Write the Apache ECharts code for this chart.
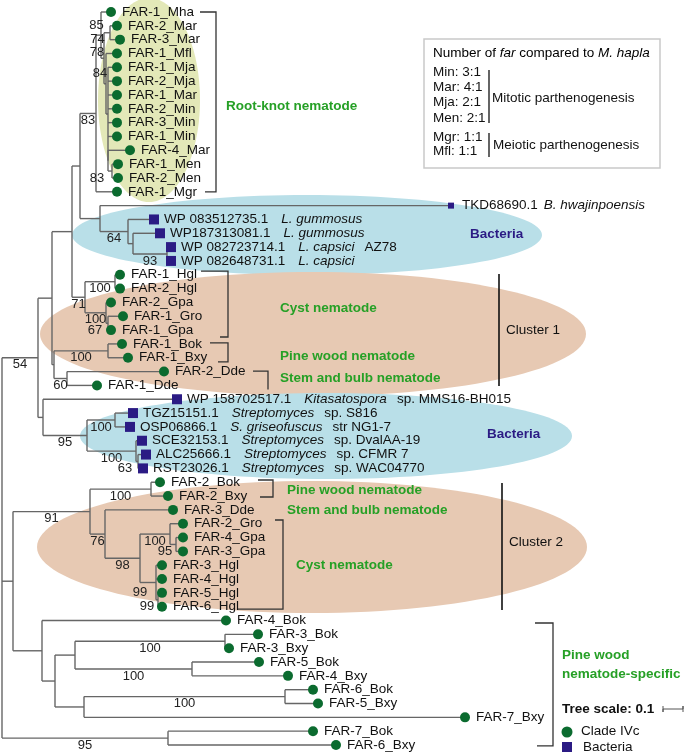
<!DOCTYPE html>
<html>
<head>
<meta charset="utf-8">
<script src="https://cdn.jsdelivr.net/npm/echarts@6/dist/echarts.min.js"></script>
<style>
  html, body { margin: 0; padding: 0; background: #fff; }
  #main { width: 685px; height: 754px; }
</style>
</head>
<body>
<div id="main"></div>
<script>
// leaves, top to bottom. bacteria: "accession|species|strain"
const leafNames = [
  'FAR-1_Mha', 'FAR-2_Mar', 'FAR-3_Mar', 'FAR-1_Mfl', 'FAR-1_Mja', 'FAR-2_Mja', 'FAR-1_Mar',
  'FAR-2_Min', 'FAR-3_Min', 'FAR-1_Min', 'FAR-4_Mar', 'FAR-1_Men', 'FAR-2_Men', 'FAR-1_Mgr',
  'TKD68690.1|B. hwajinpoensis|',
  'WP 083512735.1|L. gummosus|', 'WP187313081.1|L. gummosus|',
  'WP 082723714.1|L. capsici|AZ78', 'WP 082648731.1|L. capsici|',
  'FAR-1_Hgl', 'FAR-2_Hgl', 'FAR-2_Gpa', 'FAR-1_Gro', 'FAR-1_Gpa', 'FAR-1_Bok', 'FAR-1_Bxy',
  'FAR-2_Dde', 'FAR-1_Dde',
  'WP 158702517.1|Kitasatospora|sp. MMS16-BH015',
  'TGZ15151.1|Streptomyces|sp. S816', 'OSP06866.1|S. griseofuscus|str NG1-7',
  'SCE32153.1|Streptomyces|sp. DvalAA-19', 'ALC25666.1|Streptomyces|sp. CFMR 7',
  'RST23026.1|Streptomyces|sp. WAC04770',
  'FAR-2_Bok', 'FAR-2_Bxy', 'FAR-3_Dde', 'FAR-2_Gro', 'FAR-4_Gpa', 'FAR-3_Gpa',
  'FAR-3_Hgl', 'FAR-4_Hgl', 'FAR-5_Hgl', 'FAR-6_Hgl',
  'FAR-4_Bok', 'FAR-3_Bok', 'FAR-3_Bxy', 'FAR-5_Bok', 'FAR-4_Bxy', 'FAR-6_Bok', 'FAR-5_Bxy',
  'FAR-7_Bxy', 'FAR-7_Bok', 'FAR-6_Bxy'
];

// distance of each tip from the root (tree units)
const leafDepth = [
  0.545, 0.575, 0.59, 0.575, 0.575, 0.575, 0.575, 0.575, 0.575, 0.575, 0.64, 0.58, 0.58, 0.575,
  2.245, 0.76, 0.79, 0.845, 0.845,
  0.59, 0.59, 0.545, 0.605, 0.545, 0.60, 0.63, 0.81, 0.475,
  0.875, 0.655, 0.64, 0.70, 0.72, 0.705,
  0.79, 0.83, 0.855, 0.905, 0.905, 0.905, 0.80, 0.80, 0.80, 0.80,
  1.12, 1.28, 1.135, 1.285, 1.43, 1.555, 1.58, 2.315, 1.555, 1.67
];

// internal nodes: [id, depth, children (leaf index or node id), bootstrap]
const treeNodes = [
  ['root', 0, ['n54', 'nA', 'n95b'], ''],
  ['n54', 0.18, ['n52', 'n43'], '54'],
  ['n52', 0.25, ['n72', 'n54b'], ''],
  ['n72', 0.35, ['nTop', 'n71'], ''],
  ['nTop', 0.39, ['n83', 'nB'], ''],
  ['n83', 0.47, ['nA85', 13], '83'],
  ['nA85', 0.495, [0, 'nB74'], '85'],
  ['nB74', 0.51, ['nMar', 'nC78'], '74'],
  ['nMar', 0.54, [1, 2], ''],
  ['nC78', 0.52, [3, 'nD84'], '78'],
  ['nD84', 0.53, [4, 5, 6, 7, 8, 9, 'nLow'], '84'],
  ['nLow', 0.53, [10, 'nMen'], ''],
  ['nMen', 0.55, [11, 12], '83'],
  ['nB', 0.49, [14, 'n128'], ''],
  ['n128', 0.63, [15, 'n133'], '64'],
  ['n133', 0.655, [16, 'n93'], ''],
  ['n93', 0.825, [17, 18], '93'],
  ['n71', 0.415, ['nHgl', 'nGpa'], '71'],
  ['nHgl', 0.565, [19, 20], '100'],
  ['nGpa', 0.52, [21, 'n67'], '100'],
  ['n67', 0.53, [22, 23], '67'],
  ['n54b', 0.26, ['nBok1', 'n60'], ''],
  ['nBok1', 0.53, [24, 25], '100'],
  ['n60', 0.325, [26, 27], '60'],
  ['n43', 0.205, [28, 'n95s'], ''],
  ['n95s', 0.425, ['nS1', 'nS2'], '95'],
  ['nS1', 0.565, [29, 30], '100'],
  ['nS2', 0.67, [31, 'n63'], '100'],
  ['n63', 0.68, [32, 33], '63'],
  ['nA', 0.055, ['n91', 'n42'], ''],
  ['n91', 0.44, ['nBok2', 'n76'], '91'],
  ['nBok2', 0.745, [34, 35], '100'],
  ['n76', 0.515, [36, 'n98'], '76'],
  ['n98', 0.69, ['nG', 'n99a'], '98'],
  ['nG', 0.84, [37, 'n95g'], '100'],
  ['n95g', 0.87, [38, 39], '95'],
  ['n99a', 0.77, [40, 41, 'n99b'], '99'],
  ['n99b', 0.78, [42, 43], '99'],
  ['n42', 0.20, [44, 'n55'], ''],
  ['n55', 0.265, ['n75', 'n84b'], ''],
  ['n75', 0.365, ['n225', 'n192'], ''],
  ['n225', 1.115, [45, 46], '100'],
  ['n192', 0.95, [47, 48], '100'],
  ['n84b', 0.41, ['n285', 51], ''],
  ['n285', 1.415, [49, 50], '100'],
  ['n95b', 0.83, [52, 53], '95']
];

// bootstrap label nudges (px) where labels crowd
const supportNudge = {
  nA85: [-2, -17], nB74: [-5, -26], nC78: [-8, -38], nD84: [-7, -48], nMen: [-13, 0],
  n63: [-12, 0], n95g: [-8, 0], n67: [-12, 0], n99b: [-10, 0], n99a: [-8, 3]
};

// shaded groups: [centre depth, centre leaf, half width, half height, colour]
const highlights = [
  [0.735, 6.36, 0.255, 7.38, '#e3e8b8'],
  [1.525, 16.12, 1.175, 2.89, '#b9dfe8'],
  [1.555, 23.28, 1.365, 4.48, '#e7c9b3'],
  [1.62, 30.66, 1.23, 3.11, '#b9dfe8'],
  [1.55, 38.68, 1.375, 4.77, '#e7c9b3']
];

// brackets: [depth, top leaf, bottom leaf, tick top px, tick bottom px]
const brackets = [
  [1.07, 0, 13, 16, 11],
  [1.13, 18.73, 23.5, 27, 8],
  [1.13, 23.93, 25.3, 18, 10],
  [1.33, 25.96, 27.3, 15, 0],
  [1.355, 33.84, 35.07, 15, 13],
  [1.405, 36.73, 43.17, 8, 45],
  [2.755, 44.18, 53.07, 18, 16]
];
const clusterLines = [[2.485, 18.94, 27.04], [2.5, 34.06, 43.24]];

const GREEN = '#0b6b2f', NAVY = '#2b1b84', LABEL_GREEN = '#26a026';
const FONT = '"Liberation Sans", Arial, sans-serif';

// ---- tree layout ----
const nodeMap = {};
treeNodes.forEach(n => { nodeMap[n[0]] = { depth: n[1], kids: n[2], support: n[3] }; });
function depthOf(k) { return typeof k === 'number' ? leafDepth[k] : nodeMap[k].depth; }
function yOf(k) {
  if (typeof k === 'number') return k;
  const n = nodeMap[k];
  if (n.y === undefined) {
    const ys = n.kids.map(yOf);
    n.y = (ys[0] + ys[ys.length - 1]) / 2;
  }
  return n.y;
}
const segments = [];
const supports = [];
treeNodes.forEach(([id]) => {
  const n = nodeMap[id];
  const ys = n.kids.map(yOf);
  segments.push([n.depth, ys[0], n.depth, ys[ys.length - 1]]);
  n.kids.forEach((k, j) => {
    segments.push([n.depth, ys[j], depthOf(k), ys[j]]);
    if (typeof k === 'string' && nodeMap[k].support) {
      supports.push({ value: [n.depth, depthOf(k), ys[j]], text: nodeMap[k].support, id: k });
    }
  });
});

function leafLabel(i) {
  const name = leafNames[i];
  if (name.indexOf('|') < 0) return '{n|' + name + '}';
  const parts = name.split('|');
  let s = '{n|' + parts[0] + '}{' + (i === 14 ? 'i2' : 'i') + '|' + parts[1] + '}';
  if (parts[2]) s += '{t|' + parts[2] + '}';
  return s;
}

const leafData = leafNames.map((name, i) => {
  const bac = name.indexOf('|') >= 0;
  return {
    value: [leafDepth[i], i],
    symbol: bac ? 'rect' : 'circle',
    symbolSize: bac ? (i === 14 ? 6 : 10) : 10,
    itemStyle: { color: bac ? NAVY : GREEN, opacity: 1 },
    label: { distance: bac ? (i === 14 ? 8 : 5) : 6 }
  };
});

function txt(x, y, text, bold, color) {
  return {
    type: 'text', x: x, y: y, z: 100,
    style: {
      text: text, font: (bold ? 'bold ' : '') + '13.5px ' + FONT,
      fill: color || '#111', verticalAlign: 'middle'
    }
  };
}

const chart = echarts.init(document.getElementById('main'));

const option = {
  animation: false,
  grid: { left: 2, right: 0, top: 12, bottom: 9 },
  xAxis: { type: 'value', min: 0, max: 3.415, show: false },
  yAxis: { type: 'value', min: 0, max: 53, inverse: true, show: false },
  series: [
    {
      type: 'custom',
      z: 1,
      clip: false,
      data: highlights.map(h => h.slice(0, 4)),
      renderItem: (params, api) => {
        const c = api.coord([api.value(0), api.value(1)]);
        const s = api.size([api.value(2), api.value(3)]);
        return {
          type: 'ellipse',
          shape: { cx: c[0], cy: c[1], rx: s[0], ry: s[1] },
          style: { fill: highlights[params.dataIndex][4] }
        };
      }
    },
    {
      type: 'custom',
      z: 2,
      clip: false,
      data: segments,
      renderItem: (params, api) => {
        const p1 = api.coord([api.value(0), api.value(1)]);
        const p2 = api.coord([api.value(2), api.value(3)]);
        return {
          type: 'line',
          shape: { x1: p1[0], y1: p1[1], x2: p2[0], y2: p2[1] },
          style: { stroke: '#666', lineWidth: 1.4 }
        };
      }
    },
    {
      type: 'custom',
      z: 2,
      clip: false,
      data: brackets,
      renderItem: (params, api) => {
        const b = brackets[params.dataIndex];
        const top = api.coord([b[0], b[1]]);
        const bot = api.coord([b[0], b[2]]);
        const pts = [[top[0] - b[3], top[1]], top, bot, [bot[0] - b[4], bot[1]]];
        return {
          type: 'polyline',
          shape: { points: pts },
          style: { stroke: '#333', lineWidth: 1.3, fill: null }
        };
      }
    },
    {
      type: 'custom',
      z: 2,
      clip: false,
      data: clusterLines,
      renderItem: (params, api) => {
        const p1 = api.coord([api.value(0), api.value(1)]);
        const p2 = api.coord([api.value(0), api.value(2)]);
        return {
          type: 'line',
          shape: { x1: p1[0], y1: p1[1], x2: p2[0], y2: p2[1] },
          style: { stroke: '#111', lineWidth: 1.6 }
        };
      }
    },
    {
      type: 'custom',
      z: 3,
      clip: false,
      data: supports.map(s => s.value),
      renderItem: (params, api) => {
        const s = supports[params.dataIndex];
        const a = api.coord([api.value(0), api.value(2)]);
        const b = api.coord([api.value(1), api.value(2)]);
        const nudge = supportNudge[s.id] || [0, 0];
        return {
          type: 'text',
          x: (a[0] + b[0]) / 2 + nudge[0],
          y: a[1] + 7 + nudge[1],
          style: {
            text: s.text, fill: '#222', font: '13px ' + FONT,
            align: 'center', verticalAlign: 'middle'
          }
        };
      }
    },
    {
      type: 'scatter',
      z: 4,
      data: leafData,
      label: {
        show: true,
        position: 'right',
        formatter: p => leafLabel(p.dataIndex),
        rich: {
          n: { fontSize: 13.5, fontFamily: FONT, color: '#111' },
          i: { fontSize: 13.5, fontFamily: FONT, color: '#111', fontStyle: 'italic', padding: [0, 0, 0, 13] },
          i2: { fontSize: 13.5, fontFamily: FONT, color: '#111', fontStyle: 'italic', padding: [0, 0, 0, 6] },
          t: { fontSize: 13.5, fontFamily: FONT, color: '#111', padding: [0, 0, 0, 10] }
        }
      }
    }
  ],
  graphic: [
    // clade names
    txt(226, 106, 'Root-knot nematode', true, LABEL_GREEN),
    txt(470, 234, 'Bacteria', true, NAVY),
    txt(280, 308, 'Cyst nematode', true, LABEL_GREEN),
    txt(280, 356, 'Pine wood nematode', true, LABEL_GREEN),
    txt(280, 378, 'Stem and bulb nematode', true, LABEL_GREEN),
    txt(506, 330, 'Cluster 1', false),
    txt(487, 434, 'Bacteria', true, NAVY),
    txt(287, 490, 'Pine wood nematode', true, LABEL_GREEN),
    txt(287, 510, 'Stem and bulb nematode', true, LABEL_GREEN),
    txt(509, 542, 'Cluster 2', false),
    txt(296, 565, 'Cyst nematode', true, LABEL_GREEN),
    txt(562, 655, 'Pine wood', true, LABEL_GREEN),
    txt(562, 674, 'nematode-specific', true, LABEL_GREEN),

    // tree scale + legend
    txt(562, 709, 'Tree scale: 0.1', true),
    { type: 'polyline', z: 100, shape: { points: [[663, 706], [663, 712], [663, 709], [683, 709], [683, 706], [683, 712]] }, style: { stroke: '#555', lineWidth: 1, fill: null } },
    { type: 'circle', z: 100, shape: { cx: 567, cy: 732, r: 5.5 }, style: { fill: GREEN } },
    txt(581, 731, 'Clade IVc', false),
    { type: 'rect', z: 100, shape: { x: 562, y: 742, width: 10, height: 10 }, style: { fill: NAVY } },
    txt(583, 747, 'Bacteria', false),

    // info box
    { type: 'rect', z: 99, shape: { x: 424, y: 39, width: 236, height: 129 }, style: { fill: '#fff', stroke: '#c9c9c9', lineWidth: 1.5 } },
    {
      type: 'text', x: 433, y: 53, z: 100,
      style: {
        text: '{a|Number of }{b|far}{a| compared to }{b|M. hapla}', verticalAlign: 'middle',
        rich: {
          a: { fontSize: 13.5, fontFamily: FONT, color: '#111' },
          b: { fontSize: 13.5, fontFamily: FONT, color: '#111', fontStyle: 'italic' }
        }
      }
    },
    txt(433, 72, 'Min: 3:1', false),
    txt(433, 87, 'Mar: 4:1', false),
    txt(433, 102, 'Mja: 2:1', false),
    txt(433, 118, 'Men: 2:1', false),
    txt(433, 137, 'Mgr: 1:1', false),
    txt(433, 151, 'Mfl: 1:1', false),
    { type: 'line', z: 100, shape: { x1: 489, y1: 70, x2: 489, y2: 123 }, style: { stroke: '#111', lineWidth: 1.3 } },
    { type: 'line', z: 100, shape: { x1: 489, y1: 133, x2: 489, y2: 157 }, style: { stroke: '#111', lineWidth: 1.3 } },
    txt(492, 98, 'Mitotic parthenogenesis', false),
    txt(493, 145, 'Meiotic parthenogenesis', false)
  ]
};

chart.setOption(option);
</script>
</body>
</html>
